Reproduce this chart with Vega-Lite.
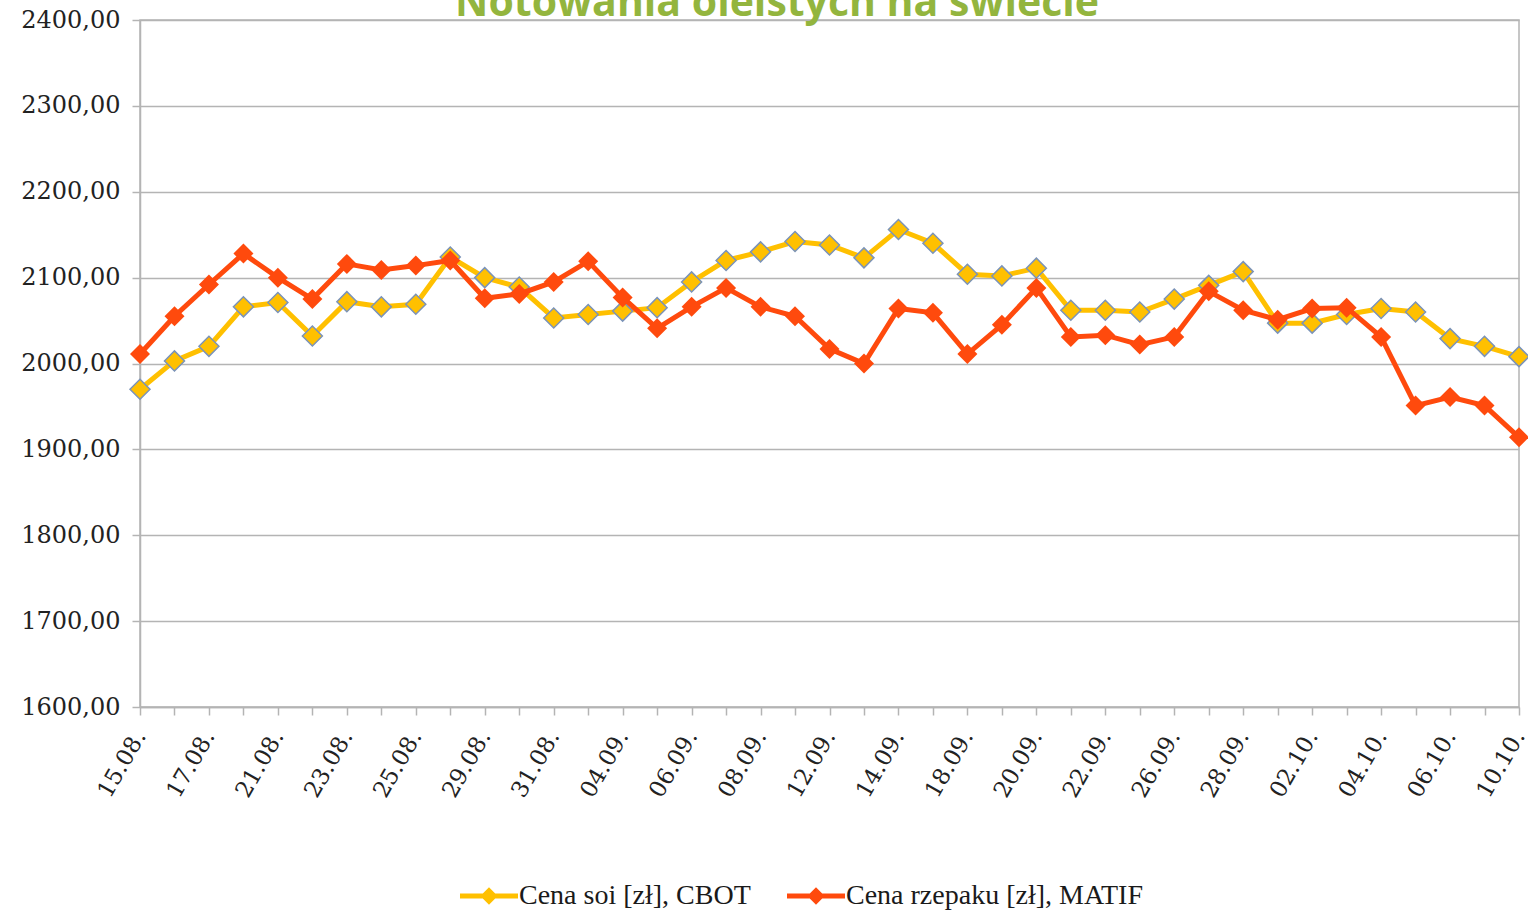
{
  "$schema": "https://vega.github.io/schema/vega-lite/v6.json",
  "autosize": {"type": "none"},
  "padding": {"left": 140, "top": 20, "right": 9, "bottom": 205},
  "width": 1379,
  "height": 687,
  "background": "white",
  "config": {
    "view": {"stroke": "#b4b4b4", "strokeWidth": 1.5},
    "axis": {
      "labelFont": "DejaVu Serif",
      "labelFontSize": 23,
      "labelColor": "#222222",
      "domainColor": "#b4b4b4",
      "domainWidth": 1.5,
      "tickColor": "#b4b4b4",
      "tickWidth": 1.5,
      "tickSize": 8,
      "gridColor": "#b4b4b4",
      "gridWidth": 1.5,
      "title": null
    }
  },
  "data": {
    "values": [
      {"d": "15.08.", "soja": 1970, "rzepak": 2011},
      {"d": "16.08.", "soja": 2003, "rzepak": 2055},
      {"d": "17.08.", "soja": 2020, "rzepak": 2092},
      {"d": "18.08.", "soja": 2066, "rzepak": 2128},
      {"d": "21.08.", "soja": 2071, "rzepak": 2100},
      {"d": "22.08.", "soja": 2032, "rzepak": 2075},
      {"d": "23.08.", "soja": 2072, "rzepak": 2116},
      {"d": "24.08.", "soja": 2066, "rzepak": 2109},
      {"d": "25.08.", "soja": 2069, "rzepak": 2114},
      {"d": "28.08.", "soja": 2124, "rzepak": 2120},
      {"d": "29.08.", "soja": 2100, "rzepak": 2076},
      {"d": "30.08.", "soja": 2089, "rzepak": 2081},
      {"d": "31.08.", "soja": 2053, "rzepak": 2095},
      {"d": "01.09.", "soja": 2057, "rzepak": 2119},
      {"d": "04.09.", "soja": 2061, "rzepak": 2077},
      {"d": "05.09.", "soja": 2065, "rzepak": 2041},
      {"d": "06.09.", "soja": 2095, "rzepak": 2066},
      {"d": "07.09.", "soja": 2120, "rzepak": 2088},
      {"d": "08.09.", "soja": 2130, "rzepak": 2066},
      {"d": "11.09.", "soja": 2142, "rzepak": 2055},
      {"d": "12.09.", "soja": 2138, "rzepak": 2017},
      {"d": "13.09.", "soja": 2123, "rzepak": 2000},
      {"d": "14.09.", "soja": 2156, "rzepak": 2064},
      {"d": "15.09.", "soja": 2140, "rzepak": 2059},
      {"d": "18.09.", "soja": 2104, "rzepak": 2011},
      {"d": "19.09.", "soja": 2102, "rzepak": 2045},
      {"d": "20.09.", "soja": 2111, "rzepak": 2088},
      {"d": "21.09.", "soja": 2062, "rzepak": 2031},
      {"d": "22.09.", "soja": 2062, "rzepak": 2033},
      {"d": "25.09.", "soja": 2060, "rzepak": 2022},
      {"d": "26.09.", "soja": 2075, "rzepak": 2031},
      {"d": "27.09.", "soja": 2091, "rzepak": 2084},
      {"d": "28.09.", "soja": 2107, "rzepak": 2062},
      {"d": "29.09.", "soja": 2047, "rzepak": 2051},
      {"d": "02.10.", "soja": 2047, "rzepak": 2064},
      {"d": "03.10.", "soja": 2057, "rzepak": 2065},
      {"d": "04.10.", "soja": 2064, "rzepak": 2031},
      {"d": "05.10.", "soja": 2060, "rzepak": 1951},
      {"d": "06.10.", "soja": 2029, "rzepak": 1961},
      {"d": "09.10.", "soja": 2020, "rzepak": 1951},
      {"d": "10.10.", "soja": 2008, "rzepak": 1914}
    ]
  },
  "encoding": {
    "x": {
      "field": "d",
      "type": "ordinal",
      "sort": null,
      "scale": {
        "type": "point",
        "padding": 0,
        "domain": ["15.08.", "16.08.", "17.08.", "18.08.", "21.08.", "22.08.", "23.08.", "24.08.", "25.08.", "28.08.", "29.08.", "30.08.", "31.08.", "01.09.", "04.09.", "05.09.", "06.09.", "07.09.", "08.09.", "11.09.", "12.09.", "13.09.", "14.09.", "15.09.", "18.09.", "19.09.", "20.09.", "21.09.", "22.09.", "25.09.", "26.09.", "27.09.", "28.09.", "29.09.", "02.10.", "03.10.", "04.10.", "05.10.", "06.10.", "09.10.", "10.10."]
      },
      "axis": {
        "labelAngle": -60,
        "labelAlign": "right",
        "labelBaseline": "middle",
        "labelPadding": 17,
        "labelOverlap": false,
        "labelExpr": "round(datum.index * 40) % 2 === 0 ? datum.label : ''",
        "grid": false
      }
    }
  },
  "layer": [
    {
      "mark": {"type": "line", "strokeWidth": 5},
      "encoding": {
        "y": {
          "field": "soja",
          "type": "quantitative",
          "scale": {"domain": [1600, 2400], "nice": false, "zero": false},
          "axis": {
            "values": [1600, 1700, 1800, 1900, 2000, 2100, 2200, 2300, 2400],
            "labelExpr": "replace(format(datum.value, '.2f'), '.', ',')",
            "labelFontSize": 24,
            "labelPadding": 12,
            "grid": true
          }
        },
        "color": {"datum": "Cena soi [zł], CBOT"}
      }
    },
    {
      "mark": {"type": "point", "shape": "diamond", "filled": true, "size": 400, "opacity": 1, "stroke": "#7b93b8", "strokeWidth": 1.5},
      "encoding": {
        "y": {"field": "soja", "type": "quantitative"},
        "color": {"datum": "Cena soi [zł], CBOT"}
      }
    },
    {
      "mark": {"type": "line", "strokeWidth": 5},
      "encoding": {
        "y": {"field": "rzepak", "type": "quantitative"},
        "color": {"datum": "Cena rzepaku [zł], MATIF"}
      }
    },
    {
      "mark": {"type": "point", "shape": "diamond", "filled": true, "size": 400, "opacity": 1},
      "encoding": {
        "y": {"field": "rzepak", "type": "quantitative"},
        "color": {
          "datum": "Cena rzepaku [zł], MATIF",
          "scale": {
            "domain": ["Cena soi [zł], CBOT", "Cena rzepaku [zł], MATIF"],
            "range": ["#ffc000", "#ff4a0d"]
          },
          "legend": {
            "title": null,
            "orient": "none",
            "legendX": 320,
            "legendY": 847,
            "direction": "horizontal",
            "padding": 0,
            "symbolType": "M-1,-0.09L1,-0.09L1,0.09L-1,0.09Z M-0.3,0L0,-0.3L0.3,0L0,0.3Z",
            "symbolSize": 3364,
            "symbolStrokeWidth": 0,
            "labelFont": "Liberation Serif",
            "labelFontSize": 28,
            "labelColor": "#1a1a1a",
            "labelOffset": 1,
            "columnPadding": 36,
            "labelLimit": 400,
            "encode": {
              "symbols": {
                "update": {
                  "fill": {"scale": "color", "field": "value"},
                  "stroke": {"value": "transparent"},
                  "opacity": {"value": 1}
                }
              }
            }
          }
        }
      }
    },
    {
      "data": {"values": [{"t": "Notowania oleistych na świecie", "d": "11.09.", "v": 2400}]},
      "mark": {"type": "text", "font": "Open Sans", "fontSize": 41, "fontWeight": "bold", "color": "#93b53e", "baseline": "alphabetic", "align": "center", "dx": -18, "dy": -4},
      "encoding": {
        "x": {"field": "d", "type": "ordinal"},
        "y": {"field": "v", "type": "quantitative"},
        "text": {"field": "t"}
      }
    }
  ]
}
